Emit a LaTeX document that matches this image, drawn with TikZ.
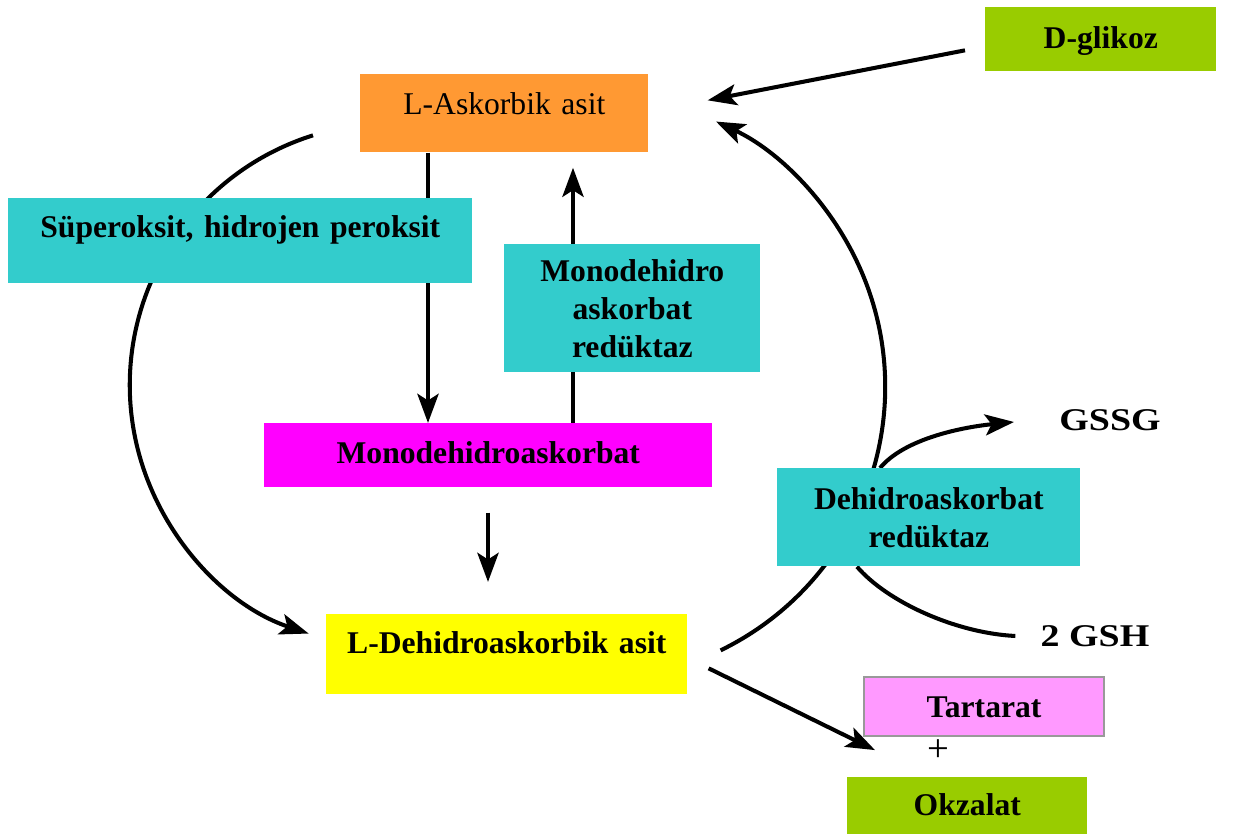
\documentclass[tikz,border=0pt]{standalone}
\usepackage{fontspec}
\setmainfont{Liberation Serif}
\usepackage{graphicx}
\usepackage{tikz}
\usetikzlibrary{arrows.meta,calc,backgrounds}
\definecolor{colorasc}{HTML}{FF9933}
\definecolor{colorenz}{HTML}{33CCCC}
\definecolor{colormda}{HTML}{FF00FF}
\definecolor{colordha}{HTML}{FFFF00}
\definecolor{colorglk}{HTML}{99CC00}
\definecolor{colortar}{HTML}{FF99FF}
\definecolor{colorrim}{HTML}{999999}
\tikzset{cmpd/.style={inner sep=0pt, anchor=north west, align=center,
  font=\fontsize{18}{21.6}\selectfont\bfseries}}
\tikzset{enz/.style={cmpd, fill=colorenz}}
\tikzset{side/.style={inner sep=0pt, font=\fontsize{18}{21.6}\selectfont\bfseries}}
\tikzset{
  edgerxn/.style={black, line width=2.3pt,
    -{Stealth[length=0.58cm, width=0.42cm, inset=0.13cm]}},
  edgevert/.style={edgerxn, line width=2.8pt},
  edgeplain/.style={black, line width=2.3pt}
}

\begin{document}
\begin{tikzpicture}[x=0.02cm, y=-0.02cm]
\useasboundingbox (0,0) rectangle (1249,834);

\node[cmpd, fill=colorglk, text width=4.62cm, text height=0.82cm,
  text depth=0.46cm] (glikoz) at (985,7) {D-glikoz};

\node[cmpd, fill=colorasc, text width=5.76cm, text height=0.8cm,
  text depth=0.76cm, font=\fontsize{18}{21.6}\selectfont]
  (askorbik) at (360,74) {L-Askorbik asit};

\node[enz, text width=9.28cm, text height=0.78cm, text depth=0.92cm]
  (superoks) at (8,198) {Süperoksit, hidrojen peroksit};

\node[enz, text width=5.12cm, minimum height=2.56cm]
  (mdhar) at (504,244) {Monodehidro\\askorbat\\redüktaz};

\node[cmpd, fill=colormda, text width=8.96cm, text height=0.8cm,
  text depth=0.48cm] (mda) at (264,423) {Monodehidroaskorbat};

\node[cmpd, fill=colordha, text width=7.22cm, text height=0.78cm,
  text depth=0.82cm] (dha) at (326,614) {L-Dehidroaskorbik asit};

\node[enz, text width=6.06cm, minimum height=1.96cm]
  (dhar) at (777,468) {Dehidroaskorbat\\redüktaz};

\node[cmpd, fill=colortar, draw=colorrim, line width=1.2pt, text width=4.8cm,
  text height=0.8cm, text depth=0.38cm] (tartarat) at (863,676) {Tartarat};

\node[side, font=\fontsize{22}{26}\selectfont] (plus) at (938,751) {+};

\node[cmpd, fill=colorglk, text width=4.8cm, text height=0.76cm,
  text depth=0.38cm] (okzalat) at (847,777) {Okzalat};

\node[side] (gssg) at (1110,420) {\scalebox{1.2}[1]{GSSG}};
\node[side] (gsh) at (1095,636) {\scalebox{1.2}[1]{2 GSH}};

\begin{scope}[on background layer]
\draw[edgerxn] ($(glikoz.west)+(-20,11)$) -- ($(askorbik.east)+(59,-13)$);
\draw[edgevert] ($(askorbik.south west)+(68,0)$) -- ($(mda.north west)+(164,0)$);
\draw[edgevert] ($(mda.north west)+(309,0)$) -- ($(askorbik.south west)+(213,15)$);
\draw[edgevert] ($(mda.south west)+(224,25)$) -- ($(dha.north west)+(162,-32)$);
\draw[edgerxn] ($(askorbik.west)+(-47,22)$)
  arc[start angle=107.5, end angle=251.5, radius=5.24cm];
\draw[edgerxn] ($(dha.east)+(33,-4)$)
  arc[start angle=-64, end angle=65, radius=5.86cm];
\draw[edgerxn] ($(dhar.north west)+(103,0)$)
  .. controls +(25,-30) and +(-50,5) .. ($(gssg.west)+(-45,2)$);
\draw[edgeplain] ($(dhar.south west)+(80,0)$)
  .. controls +(30,35) and +(-60,-3) .. ($(gsh.west)+(-25,0)$);
\draw[edgerxn] ($(dha.east)+(21,14)$) -- ($(tartarat.south west)+(12,13)$);
\end{scope}
\end{tikzpicture}
\end{document}
